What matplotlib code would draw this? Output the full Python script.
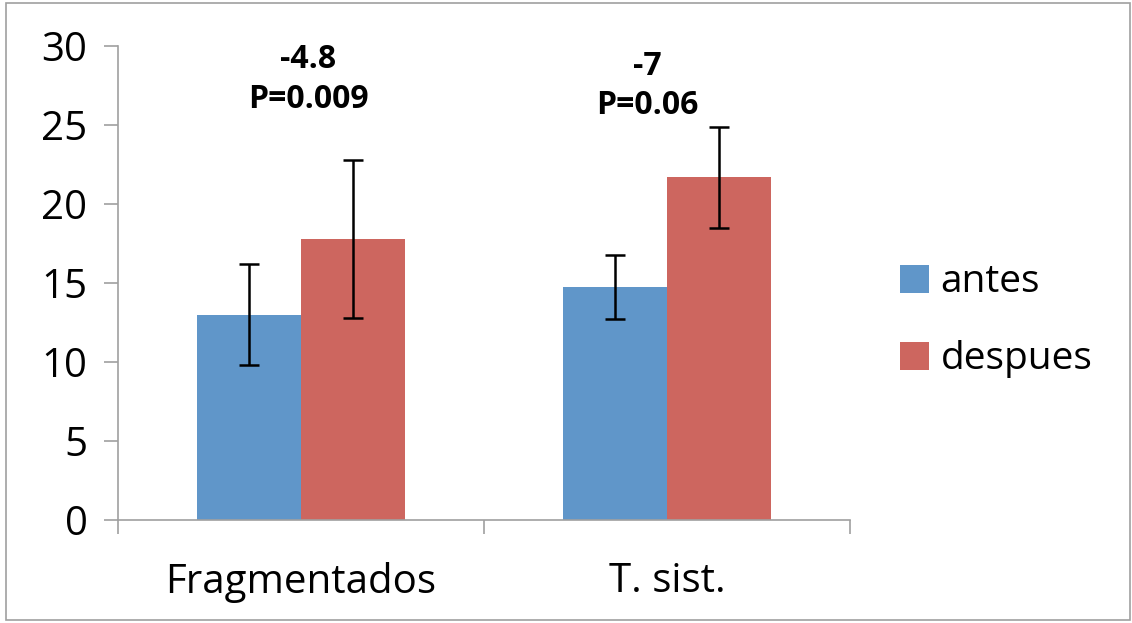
import numpy as np
import matplotlib.pyplot as plt
from matplotlib.patches import Rectangle

categories = ["Fragmentados", "T. sist."]
antes = [13.0, 14.75]
despues = [17.8, 21.7]
antes_err = [3.2, 2.0]
despues_err = [5.0, 3.2]
notes = ["-4.8\nP=0.009", "-7\nP=0.06"]
note_x = [0.02, 0.945]
note_y = [25.6, 25.2]

plt.rcParams['font.family'] = ['Open Sans', 'DejaVu Sans']

fig = plt.figure(figsize=(11.32, 6.23), dpi=100)
ax = fig.add_axes([0.1042, 0.1653, 0.6467, 0.7609])

x = np.arange(len(categories))
w = 0.284
ax.bar(x - w / 2, antes, w, color='#6096c9', label='antes',
       yerr=antes_err, error_kw=dict(ecolor='black', elinewidth=1.8, capsize=7, capthick=1.8))
ax.bar(x + w / 2, despues, w, color='#cd665f', label='despues',
       yerr=despues_err, error_kw=dict(ecolor='black', elinewidth=1.8, capsize=7, capthick=1.8))

for xi, t, yy in zip(note_x, notes, note_y):
    ax.text(xi, yy, t, ha='center', va='bottom', fontsize=23,
            fontweight='bold', linespacing=1.25)

ax.set_xlim(-0.5, 1.5)
ax.set_ylim(0, 30)
ax.set_yticks(range(0, 31, 5))
ax.set_xticks(x)
ax.set_xticklabels(categories)
ax.set_xticks([-0.5, 0.5, 1.5], minor=True)
ax.tick_params(axis='x', which='major', length=0, labelsize=29, pad=30)
ax.tick_params(axis='x', which='minor', length=10, color='#a0a0a0', width=1.2)
ax.tick_params(axis='y', length=10, color='#a0a0a0', width=1.2, labelsize=29, pad=12)

for s in ['top', 'right']:
    ax.spines[s].set_visible(False)
for s in ['left', 'bottom']:
    ax.spines[s].set_color('#a0a0a0')
    ax.spines[s].set_linewidth(1.2)

ax.legend(loc='center left', bbox_to_anchor=(1.02, 0.42), frameon=False,
          fontsize=28, handlelength=0.75, handleheight=0.75, handletextpad=0.3,
          labelspacing=1.0)

fig.patches.append(Rectangle((0.005, 0.005), 0.993, 0.99, transform=fig.transFigure,
                             fill=False, edgecolor='#a0a0a0', linewidth=1.2))

fig.savefig('out.png', dpi=100)
